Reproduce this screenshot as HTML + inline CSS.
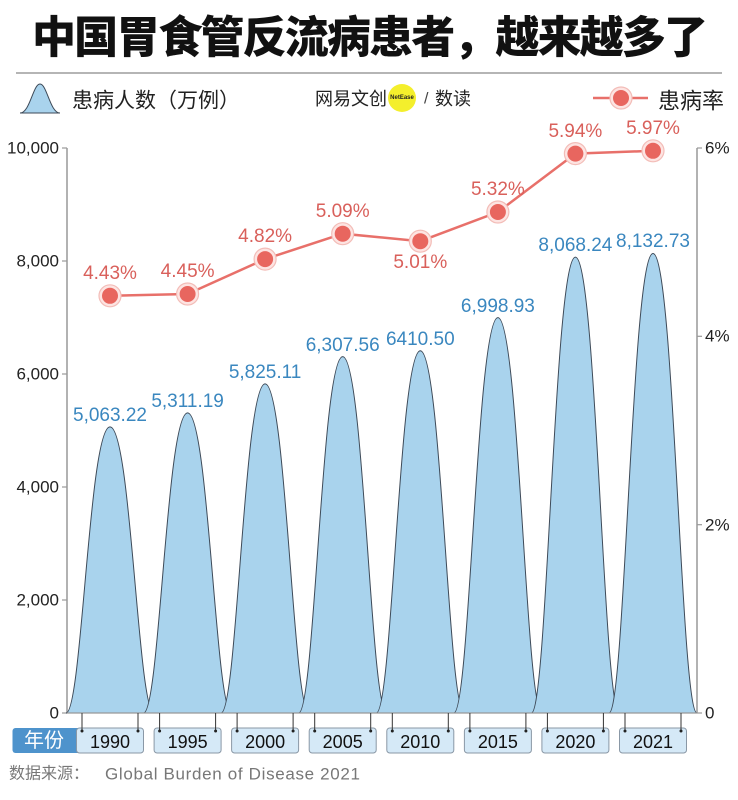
<!DOCTYPE html>
<html>
<head>
<meta charset="utf-8">
<style>
  html,body{margin:0;padding:0;background:#fff;}
  svg{display:block;}
  text{font-family:"Liberation Sans","Noto Sans CJK SC",sans-serif;}
  .cjk{font-family:"Liberation Sans","Noto Sans CJK SC",sans-serif;}
</style>
</head>
<body>
<svg width="738" height="800" viewBox="0 0 738 800" xmlns="http://www.w3.org/2000/svg">
  <rect width="738" height="800" fill="#fff"/>

  <!-- Title -->
  <text x="32" y="38" font-size="44" font-weight="900" fill="#111" dominant-baseline="central" textLength="676" lengthAdjust="spacing" class="cjk">中国胃食管反流病患者，越来越多了</text>
  <line x1="16" y1="73" x2="722" y2="73" stroke="#b5b5b5" stroke-width="2"/>

  <!-- Legend left -->
  <path d="M20,113 C30,113 33,84 40,84 C47,84 50,113 60,113 Z" fill="#a9d3ed" stroke="#3e4a58" stroke-width="1"/>
  <text x="72" y="101" font-size="21" fill="#222" dominant-baseline="central" class="cjk">患病人数（万例）</text>

  <!-- Logo -->
  <text x="315" y="99" font-size="18" fill="#222" dominant-baseline="central" class="cjk">网易文创</text>
  <circle cx="402" cy="98" r="14" fill="#f4ef2c"/>
  <text x="402" y="98" font-size="6" font-weight="bold" fill="#222" text-anchor="middle" dominant-baseline="central">NetEase</text>
  <text x="424" y="99" font-size="16" fill="#444" dominant-baseline="central">/</text>
  <text x="435" y="99" font-size="18" fill="#222" dominant-baseline="central" class="cjk">数读</text>

  <!-- Legend right -->
  <line x1="593" y1="98" x2="648" y2="98" stroke="#e8706a" stroke-width="2.5"/>
  <circle cx="621" cy="98" r="11" fill="#fde4e2" stroke="#f3bdb8" stroke-width="1.2"/>
  <circle cx="621" cy="98" r="8" fill="#e8665f"/>
  <text x="658" y="101" font-size="22" fill="#222" dominant-baseline="central" class="cjk">患病率</text>

  <!-- Left axis -->
  <line x1="67" y1="148" x2="67" y2="713" stroke="#999" stroke-width="1.5"/>
  <g stroke="#999" stroke-width="1.2">
    <line x1="62" y1="148" x2="67" y2="148"/>
    <line x1="62" y1="261" x2="67" y2="261"/>
    <line x1="62" y1="374" x2="67" y2="374"/>
    <line x1="62" y1="487" x2="67" y2="487"/>
    <line x1="62" y1="600" x2="67" y2="600"/>
    <line x1="62" y1="713" x2="67" y2="713"/>
  </g>
  <g font-size="17" fill="#222" text-anchor="end" dominant-baseline="central">
    <text x="59" y="148">10,000</text>
    <text x="59" y="261">8,000</text>
    <text x="59" y="374">6,000</text>
    <text x="59" y="487">4,000</text>
    <text x="59" y="600">2,000</text>
    <text x="59" y="713">0</text>
  </g>

  <!-- Right axis -->
  <line x1="697" y1="148" x2="697" y2="713" stroke="#999" stroke-width="1.5"/>
  <g stroke="#999" stroke-width="1.2">
    <line x1="697" y1="148" x2="702" y2="148"/>
    <line x1="697" y1="336.3" x2="702" y2="336.3"/>
    <line x1="697" y1="524.7" x2="702" y2="524.7"/>
    <line x1="697" y1="713" x2="702" y2="713"/>
  </g>
  <g font-size="17" fill="#222" dominant-baseline="central">
    <text x="705" y="148">6%</text>
    <text x="705" y="336">4%</text>
    <text x="705" y="525">2%</text>
    <text x="705" y="713">0</text>
  </g>

  <!-- Bells -->
  <g fill="#a9d3ed" stroke="#3e4a58" stroke-width="1">
    <path d="M66,713 C82,713 89,426.9 110,426.9 C131,426.9 138,713 154,713 Z"/>
    <path d="M143.6,713 C159.6,713 166.6,412.9 187.6,412.9 C208.6,412.9 215.6,713 231.6,713 Z"/>
    <path d="M221.1,713 C237.1,713 244.1,383.9 265.1,383.9 C286.1,383.9 293.1,713 309.1,713 Z"/>
    <path d="M298.7,713 C314.7,713 321.7,356.6 342.7,356.6 C363.7,356.6 370.7,713 386.7,713 Z"/>
    <path d="M376.3,713 C392.3,713 399.3,350.8 420.3,350.8 C441.3,350.8 448.3,713 464.3,713 Z"/>
    <path d="M453.9,713 C469.9,713 476.9,317.6 497.9,317.6 C518.9,317.6 525.9,713 541.9,713 Z"/>
    <path d="M531.4,713 C547.4,713 554.4,257.1 575.4,257.1 C596.4,257.1 603.4,713 619.4,713 Z"/>
    <path d="M609,713 C625,713 632,253.5 653,253.5 C674,253.5 681,713 697,713 Z"/>
  </g>
  <line x1="67" y1="713" x2="697" y2="713" stroke="#999" stroke-width="1.2"/>

  <!-- Value labels -->
  <g font-size="19" fill="#3a87bf" text-anchor="middle">
    <text x="110" y="421">5,063.22</text>
    <text x="187.6" y="407">5,311.19</text>
    <text x="265.1" y="378">5,825.11</text>
    <text x="342.7" y="351">6,307.56</text>
    <text x="420.3" y="345">6410.50</text>
    <text x="497.9" y="312">6,998.93</text>
    <text x="575.4" y="251">8,068.24</text>
    <text x="653" y="247">8,132.73</text>
  </g>

  <!-- Rate line -->
  <polyline points="110,295.8 187.6,294 265.1,259.1 342.7,233.7 420.3,241.2 497.9,212 575.4,153.6 653,150.8" fill="none" stroke="#e8706a" stroke-width="2.5"/>
  <g>
    <g fill="#fde4e2" stroke="#f3bdb8" stroke-width="1.2">
      <circle cx="110" cy="295.8" r="11"/>
      <circle cx="187.6" cy="294" r="11"/>
      <circle cx="265.1" cy="259.1" r="11"/>
      <circle cx="342.7" cy="233.7" r="11"/>
      <circle cx="420.3" cy="241.2" r="11"/>
      <circle cx="497.9" cy="212" r="11"/>
      <circle cx="575.4" cy="153.6" r="11"/>
      <circle cx="653" cy="150.8" r="11"/>
    </g>
    <g fill="#e8665f">
      <circle cx="110" cy="295.8" r="8"/>
      <circle cx="187.6" cy="294" r="8"/>
      <circle cx="265.1" cy="259.1" r="8"/>
      <circle cx="342.7" cy="233.7" r="8"/>
      <circle cx="420.3" cy="241.2" r="8"/>
      <circle cx="497.9" cy="212" r="8"/>
      <circle cx="575.4" cy="153.6" r="8"/>
      <circle cx="653" cy="150.8" r="8"/>
    </g>
  </g>
  <g font-size="19" fill="#d9605b" text-anchor="middle">
    <text x="110" y="279">4.43%</text>
    <text x="187.6" y="277">4.45%</text>
    <text x="265.1" y="242">4.82%</text>
    <text x="342.7" y="217">5.09%</text>
    <text x="420.3" y="268">5.01%</text>
    <text x="497.9" y="195">5.32%</text>
    <text x="575.4" y="137">5.94%</text>
    <text x="653" y="134">5.97%</text>
  </g>

  <!-- Year label box -->
  <rect x="12.5" y="728" width="70" height="25" rx="3" fill="#4e93cc"/>
  <text x="44" y="741" font-size="20" fill="#fff" text-anchor="middle" dominant-baseline="central" class="cjk">年份</text>

  <!-- Year boxes -->
  <g fill="#d5e9f7" stroke="#8a98a6" stroke-width="1">
    <rect x="76.5" y="728" width="67" height="25" rx="3"/>
    <rect x="154.1" y="728" width="67" height="25" rx="3"/>
    <rect x="231.6" y="728" width="67" height="25" rx="3"/>
    <rect x="309.2" y="728" width="67" height="25" rx="3"/>
    <rect x="386.8" y="728" width="67" height="25" rx="3"/>
    <rect x="464.4" y="728" width="67" height="25" rx="3"/>
    <rect x="541.9" y="728" width="67" height="25" rx="3"/>
    <rect x="619.5" y="728" width="67" height="25" rx="3"/>
  </g>
  <g stroke="#333" stroke-width="1">
    <line x1="82" y1="713" x2="82" y2="731"/><line x1="138" y1="713" x2="138" y2="731"/>
    <line x1="159.6" y1="713" x2="159.6" y2="731"/><line x1="215.6" y1="713" x2="215.6" y2="731"/>
    <line x1="237.1" y1="713" x2="237.1" y2="731"/><line x1="293.1" y1="713" x2="293.1" y2="731"/>
    <line x1="314.7" y1="713" x2="314.7" y2="731"/><line x1="370.7" y1="713" x2="370.7" y2="731"/>
    <line x1="392.3" y1="713" x2="392.3" y2="731"/><line x1="448.3" y1="713" x2="448.3" y2="731"/>
    <line x1="469.9" y1="713" x2="469.9" y2="731"/><line x1="525.9" y1="713" x2="525.9" y2="731"/>
    <line x1="547.4" y1="713" x2="547.4" y2="731"/><line x1="603.4" y1="713" x2="603.4" y2="731"/>
    <line x1="625" y1="713" x2="625" y2="731"/><line x1="681" y1="713" x2="681" y2="731"/>
  </g>
  <g fill="#222">
    <circle cx="82" cy="731" r="1.5"/><circle cx="138" cy="731" r="1.5"/>
    <circle cx="159.6" cy="731" r="1.5"/><circle cx="215.6" cy="731" r="1.5"/>
    <circle cx="237.1" cy="731" r="1.5"/><circle cx="293.1" cy="731" r="1.5"/>
    <circle cx="314.7" cy="731" r="1.5"/><circle cx="370.7" cy="731" r="1.5"/>
    <circle cx="392.3" cy="731" r="1.5"/><circle cx="448.3" cy="731" r="1.5"/>
    <circle cx="469.9" cy="731" r="1.5"/><circle cx="525.9" cy="731" r="1.5"/>
    <circle cx="547.4" cy="731" r="1.5"/><circle cx="603.4" cy="731" r="1.5"/>
    <circle cx="625" cy="731" r="1.5"/><circle cx="681" cy="731" r="1.5"/>
  </g>
  <g font-size="18" fill="#111" text-anchor="middle" dominant-baseline="central">
    <text x="110" y="742">1990</text>
    <text x="187.6" y="742">1995</text>
    <text x="265.1" y="742">2000</text>
    <text x="342.7" y="742">2005</text>
    <text x="420.3" y="742">2010</text>
    <text x="497.9" y="742">2015</text>
    <text x="575.4" y="742">2020</text>
    <text x="653" y="742">2021</text>
  </g>

  <!-- Footer -->
  <text x="9" y="774" font-size="16" fill="#777" dominant-baseline="central" class="cjk">数据来源：</text>
  <text x="105" y="774" font-size="17" fill="#777" dominant-baseline="central" textLength="255" lengthAdjust="spacing">Global Burden of Disease 2021</text>
</svg>
</body>
</html>
